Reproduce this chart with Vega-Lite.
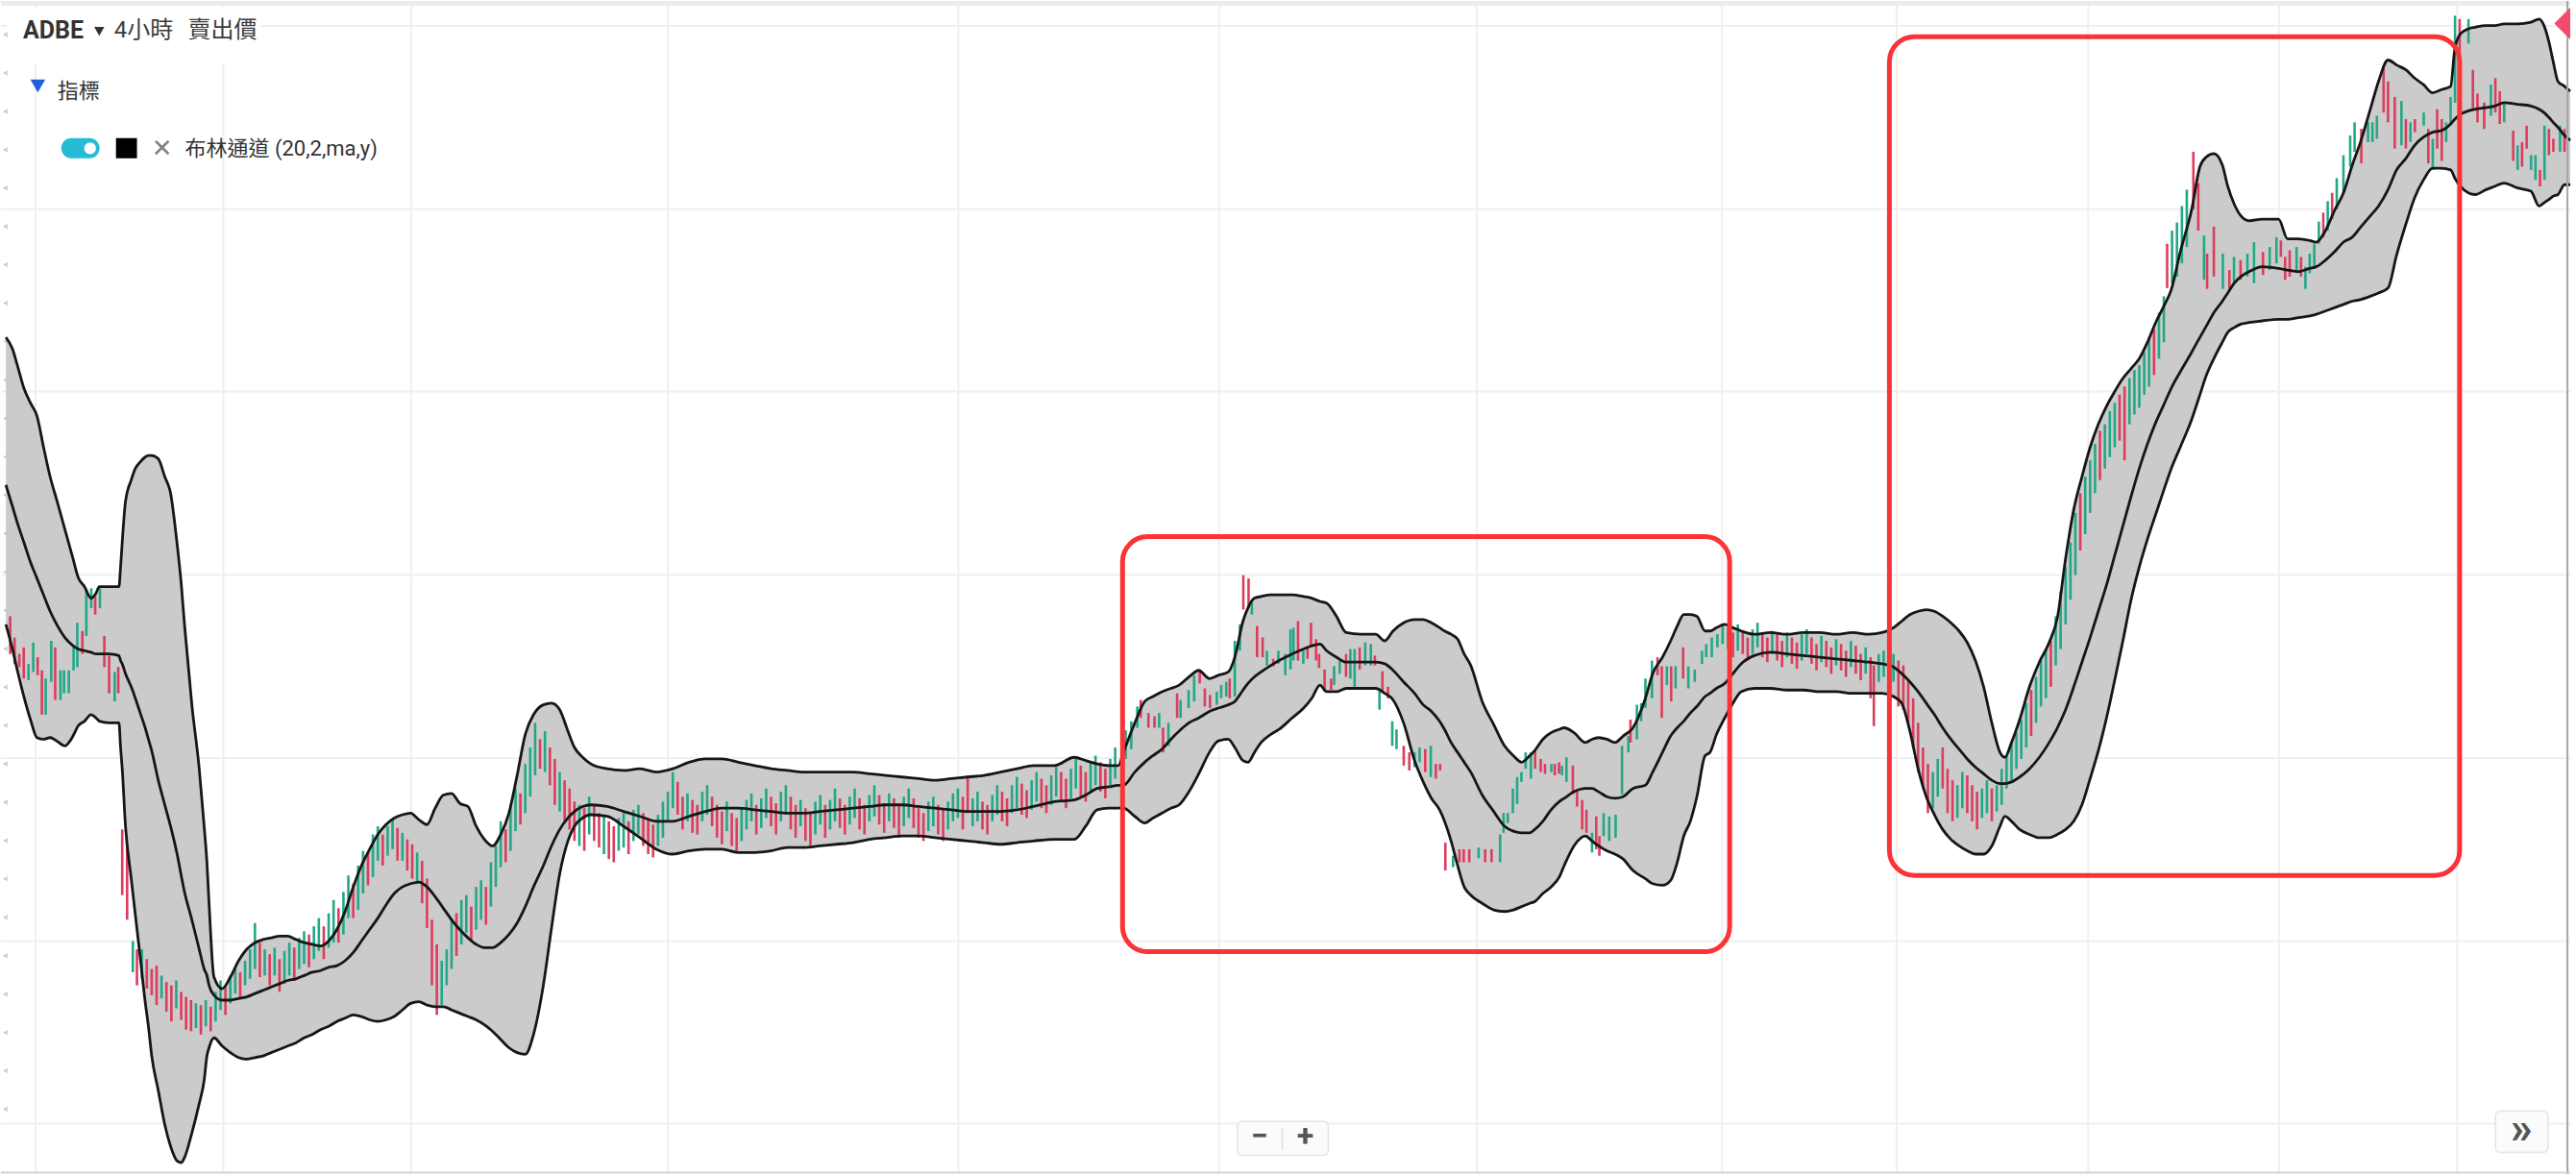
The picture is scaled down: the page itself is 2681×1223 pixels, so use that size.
{
"$schema": "https://vega.github.io/schema/vega-lite/v6.json",
"width": 2681, "height": 1223,
"autosize": {"type": "fit", "contains": "padding"},
"padding": 0,
"background": "white",
"config": {"view": {"stroke": null}},
"datasets": {
"vgrid": [{"t":21.1},{"t":135.7},{"t":250.3},{"t":407.1},{"t":584.3},{"t":743.4},{"t":900.7},{"t":1050.4},{"t":1156.9},{"t":1273.8},{"t":1390.2},{"t":1499.0}],
"hgrid": [{"p":984.8},{"p":873.1},{"p":762.0},{"p":650.3},{"p":538.5},{"p":426.8},{"p":315.7}],
"lticks": [{"p":979.5},{"p":956.1},{"p":932.7},{"p":909.3},{"p":886.0},{"p":862.6},{"p":839.2},{"p":815.8},{"p":792.4},{"p":769.0},{"p":745.6},{"p":722.2},{"p":698.8},{"p":675.4},{"p":652.0},{"p":628.6},{"p":605.2},{"p":581.8},{"p":558.4},{"p":535.0},{"p":511.6},{"p":488.2},{"p":464.9},{"p":441.5},{"p":418.1},{"p":394.7},{"p":371.3},{"p":347.9},{"p":324.5}],
"bands": [
{"t":3,"upper":795,"middle":705,"lower":620},{"t":7,"upper":788,"middle":692,"lower":605},{"t":10,"upper":778,"middle":682,"lower":592},{"t":14,"upper":764,"middle":670,"lower":576},{"t":18,"upper":755,"middle":658,"lower":562},{"t":22,"upper":747,"middle":648,"lower":551},{"t":26,"upper":728,"middle":638,"lower":550},{"t":30,"upper":710,"middle":628,"lower":551},{"t":34,"upper":696,"middle":620,"lower":549},{"t":39,"upper":678,"middle":612,"lower":546},{"t":44,"upper":660,"middle":607,"lower":552},{"t":47,"upper":649,"middle":605,"lower":558},{"t":51,"upper":643,"middle":604,"lower":561},{"t":55,"upper":636,"middle":603,"lower":565},{"t":58,"upper":639,"middle":602,"lower":563},{"t":60,"upper":643,"middle":602,"lower":561},{"t":66,"upper":643,"middle":602,"lower":560},{"t":72,"upper":643,"middle":601,"lower":560},{"t":73,"upper":655,"middle":598,"lower":545},{"t":74,"upper":670,"middle":596,"lower":532},{"t":76,"upper":695,"middle":590,"lower":497},{"t":79.5,"upper":708,"middle":582,"lower":465},{"t":82,"upper":715,"middle":575,"lower":443},{"t":85,"upper":719,"middle":566,"lower":417},{"t":88,"upper":722,"middle":557,"lower":390},{"t":90,"upper":723,"middle":550,"lower":375},{"t":92,"upper":723,"middle":543,"lower":357},{"t":96,"upper":721,"middle":525,"lower":336},{"t":100,"upper":710,"middle":510,"lower":315},{"t":103.5,"upper":700,"middle":497,"lower":302},{"t":107.5,"upper":669,"middle":480,"lower":293},{"t":110,"upper":645,"middle":467,"lower":292},{"t":112,"upper":620,"middle":457,"lower":295},{"t":116.5,"upper":571,"middle":440,"lower":310},{"t":121,"upper":532,"middle":422,"lower":328},{"t":124,"upper":497,"middle":410,"lower":342},{"t":125.7,"upper":475,"middle":406,"lower":357},{"t":127,"upper":450,"middle":400,"lower":362},{"t":130,"upper":405,"middle":394,"lower":368},{"t":135,"upper":398,"middle":391,"lower":363},{"t":140,"upper":405,"middle":391,"lower":359},{"t":145,"upper":415,"middle":392,"lower":356},{"t":150,"upper":422,"middle":393,"lower":355},{"t":155,"upper":426,"middle":395,"lower":356},{"t":160,"upper":428,"middle":397,"lower":357},{"t":165,"upper":429,"middle":399,"lower":359},{"t":170,"upper":430,"middle":401,"lower":361},{"t":175,"upper":430,"middle":403,"lower":363},{"t":180,"upper":428,"middle":404,"lower":365},{"t":185,"upper":426,"middle":406,"lower":368},{"t":190,"upper":425,"middle":408,"lower":370},{"t":195,"upper":424,"middle":409,"lower":373},{"t":200,"upper":427,"middle":411,"lower":375},{"t":205,"upper":434,"middle":412,"lower":378},{"t":210,"upper":445,"middle":415,"lower":380},{"t":215,"upper":460,"middle":420,"lower":382},{"t":220,"upper":473,"middle":427,"lower":381},{"t":225,"upper":483,"middle":434,"lower":379},{"t":230,"upper":492,"middle":441,"lower":378},{"t":235,"upper":498,"middle":449,"lower":379},{"t":240,"upper":502,"middle":456,"lower":381},{"t":245,"upper":504,"middle":460,"lower":385},{"t":250,"upper":505,"middle":462,"lower":389},{"t":255,"upper":501,"middle":463,"lower":390},{"t":260,"upper":498,"middle":460,"lower":388},{"t":265,"upper":508,"middle":454,"lower":387},{"t":270,"upper":516,"middle":447,"lower":387},{"t":275,"upper":517,"middle":440,"lower":385},{"t":280,"upper":511,"middle":434,"lower":383},{"t":285,"upper":509,"middle":429,"lower":381},{"t":290,"upper":497,"middle":425,"lower":379},{"t":295,"upper":489,"middle":423,"lower":376},{"t":300,"upper":485,"middle":423,"lower":372},{"t":305,"upper":492,"middle":426,"lower":367},{"t":310,"upper":505,"middle":431,"lower":362},{"t":315,"upper":528,"middle":438,"lower":359},{"t":320,"upper":553,"middle":448,"lower":358},{"t":325,"upper":565,"middle":460,"lower":370},{"t":331,"upper":571,"middle":473,"lower":400},{"t":336,"upper":572,"middle":485,"lower":435},{"t":341,"upper":568,"middle":495,"lower":468},{"t":346,"upper":555,"middle":502,"lower":488},{"t":350,"upper":545,"middle":506,"lower":497},{"t":355,"upper":539,"middle":509,"lower":502},{"t":360,"upper":535,"middle":510,"lower":504},{"t":370,"upper":532,"middle":509,"lower":503},{"t":380,"upper":531,"middle":506,"lower":497},{"t":390,"upper":532,"middle":503,"lower":490},{"t":400,"upper":530,"middle":500,"lower":483},{"t":410,"upper":532,"middle":500,"lower":480},{"t":420,"upper":536,"middle":503,"lower":482},{"t":430,"upper":538,"middle":506,"lower":483},{"t":440,"upper":538,"middle":508,"lower":483},{"t":450,"upper":536,"middle":508,"lower":481},{"t":460,"upper":534,"middle":507,"lower":481},{"t":470,"upper":532,"middle":506,"lower":482},{"t":480,"upper":531,"middle":505,"lower":484},{"t":490,"upper":530,"middle":505,"lower":484},{"t":500,"upper":530,"middle":506,"lower":485},{"t":510,"upper":530,"middle":507,"lower":486},{"t":520,"upper":530,"middle":508,"lower":487},{"t":530,"upper":529,"middle":509,"lower":489},{"t":540,"upper":528,"middle":510,"lower":490},{"t":550,"upper":527,"middle":510,"lower":491},{"t":560,"upper":526,"middle":509,"lower":491},{"t":570,"upper":525,"middle":508,"lower":490},{"t":580,"upper":526,"middle":507,"lower":489},{"t":590,"upper":527,"middle":506,"lower":488},{"t":600,"upper":528,"middle":506,"lower":487},{"t":610,"upper":530,"middle":506,"lower":486},{"t":620,"upper":532,"middle":507,"lower":487},{"t":630,"upper":534,"middle":509,"lower":488},{"t":643,"upper":534,"middle":512,"lower":489},{"t":655,"upper":539,"middle":513,"lower":489},{"t":662,"upper":537,"middle":516,"lower":497},{"t":669,"upper":535,"middle":520,"lower":507},{"t":676,"upper":534,"middle":521,"lower":508},{"t":682,"upper":534,"middle":522,"lower":508},{"t":685,"upper":542,"middle":522,"lower":508},{"t":692,"upper":560,"middle":530,"lower":503},{"t":698,"upper":573,"middle":536,"lower":499},{"t":703,"upper":576,"middle":540,"lower":502},{"t":708.6,"upper":579,"middle":544,"lower":505},{"t":714,"upper":581,"middle":550,"lower":508},{"t":719,"upper":583,"middle":555,"lower":510},{"t":725,"upper":588,"middle":560,"lower":518},{"t":731,"upper":592,"middle":563,"lower":529},{"t":737.5,"upper":587,"middle":567,"lower":542},{"t":743,"upper":589,"middle":569,"lower":549},{"t":749,"upper":591,"middle":571,"lower":550},{"t":753,"upper":600,"middle":573,"lower":545},{"t":758,"upper":622,"middle":580,"lower":537},{"t":761,"upper":630,"middle":584,"lower":536},{"t":765,"upper":636,"middle":588,"lower":542},{"t":769,"upper":637,"middle":591,"lower":548},{"t":775,"upper":638,"middle":595,"lower":553},{"t":780,"upper":638,"middle":598,"lower":556},{"t":788,"upper":638,"middle":602,"lower":563},{"t":795,"upper":637,"middle":605,"lower":569},{"t":800,"upper":636,"middle":607,"lower":575},{"t":805,"upper":634,"middle":608,"lower":583},{"t":809,"upper":633,"middle":604,"lower":579},{"t":815,"upper":625,"middle":600,"lower":579},{"t":821,"upper":615,"middle":597,"lower":581},{"t":830,"upper":614,"middle":597,"lower":581},{"t":839,"upper":614,"middle":597,"lower":581},{"t":844.5,"upper":610,"middle":596,"lower":578},{"t":849.6,"upper":616,"middle":592,"lower":574},{"t":856,"upper":621,"middle":585,"lower":560},{"t":862.7,"upper":623,"middle":578,"lower":537},{"t":868,"upper":623,"middle":571,"lower":524},{"t":873,"upper":621,"middle":567,"lower":514},{"t":878,"upper":618,"middle":561,"lower":507},{"t":881,"upper":616,"middle":556,"lower":500},{"t":885,"upper":614,"middle":548,"lower":488},{"t":889,"upper":611,"middle":542,"lower":473},{"t":893,"upper":602,"middle":536,"lower":460},{"t":897,"upper":595,"middle":530,"lower":455},{"t":904,"upper":573,"middle":516,"lower":450},{"t":911,"upper":559,"middle":506,"lower":446},{"t":917.6,"upper":546,"middle":497,"lower":445},{"t":923,"upper":540,"middle":494,"lower":446},{"t":928,"upper":536,"middle":493,"lower":448},{"t":933,"upper":540,"middle":493,"lower":450},{"t":936,"upper":543,"middle":495,"lower":451},{"t":941,"upper":550,"middle":500,"lower":456},{"t":946,"upper":554,"middle":507,"lower":460},{"t":951,"upper":556,"middle":512,"lower":466},{"t":954,"upper":557,"middle":514,"lower":473},{"t":960,"upper":554,"middle":518,"lower":485},{"t":967,"upper":548,"middle":520,"lower":491},{"t":971,"upper":550,"middle":520,"lower":488},{"t":975,"upper":551,"middle":518,"lower":485},{"t":980,"upper":550,"middle":515,"lower":482},{"t":985,"upper":548,"middle":514,"lower":480},{"t":990,"upper":552,"middle":515,"lower":477},{"t":996,"upper":557,"middle":520,"lower":470},{"t":1003.6,"upper":575,"middle":522,"lower":465},{"t":1008,"upper":590,"middle":530,"lower":462},{"t":1014,"upper":600,"middle":542,"lower":461},{"t":1019,"upper":610,"middle":552,"lower":464},{"t":1023,"upper":619,"middle":557,"lower":475},{"t":1027,"upper":626,"middle":561,"lower":491},{"t":1031,"upper":626,"middle":566,"lower":500},{"t":1035,"upper":625,"middle":570,"lower":515},{"t":1040,"upper":616,"middle":576,"lower":540},{"t":1043,"upper":616,"middle":578,"lower":542},{"t":1047,"upper":618,"middle":581,"lower":553},{"t":1052,"upper":620,"middle":584,"lower":563},{"t":1057,"upper":618,"middle":590,"lower":572},{"t":1062,"upper":616,"middle":596,"lower":579},{"t":1070,"upper":614,"middle":601,"lower":581},{"t":1080,"upper":615,"middle":603,"lower":581},{"t":1090,"upper":614,"middle":602,"lower":580},{"t":1100,"upper":615,"middle":601,"lower":580},{"t":1110,"upper":615,"middle":600,"lower":579},{"t":1120,"upper":614,"middle":599,"lower":579},{"t":1130,"upper":615,"middle":598,"lower":578},{"t":1140,"upper":614,"middle":597,"lower":578},{"t":1148,"upper":615,"middle":596,"lower":578},{"t":1155,"upper":618,"middle":594,"lower":576},{"t":1160,"upper":622,"middle":590,"lower":572},{"t":1165,"upper":626,"middle":585,"lower":555},{"t":1170,"upper":628,"middle":579,"lower":532},{"t":1175,"upper":629,"middle":572,"lower":515},{"t":1180,"upper":628,"middle":565,"lower":504},{"t":1185,"upper":625,"middle":557,"lower":495},{"t":1190,"upper":621,"middle":550,"lower":489},{"t":1195,"upper":616,"middle":544,"lower":485},{"t":1200,"upper":609,"middle":538,"lower":482},{"t":1205,"upper":598,"middle":533,"lower":480},{"t":1210,"upper":582,"middle":529,"lower":480},{"t":1215,"upper":560,"middle":525,"lower":485},{"t":1220,"upper":542,"middle":523,"lower":497},{"t":1223,"upper":539,"middle":523,"lower":503},{"t":1227,"upper":548,"middle":524,"lower":500},{"t":1232,"upper":562,"middle":527,"lower":495},{"t":1238,"upper":582,"middle":532,"lower":492},{"t":1244,"upper":597,"middle":539,"lower":490},{"t":1250,"upper":609,"middle":548,"lower":490},{"t":1255,"upper":624,"middle":557,"lower":492},{"t":1260,"upper":660,"middle":568,"lower":495},{"t":1265,"upper":690,"middle":582,"lower":500},{"t":1270,"upper":710,"middle":597,"lower":510},{"t":1275,"upper":728,"middle":612,"lower":526},{"t":1280,"upper":742,"middle":628,"lower":543},{"t":1285,"upper":753,"middle":644,"lower":563},{"t":1290,"upper":762,"middle":662,"lower":586},{"t":1295,"upper":770,"middle":680,"lower":610},{"t":1300,"upper":776,"middle":698,"lower":635},{"t":1305,"upper":782,"middle":715,"lower":655},{"t":1310,"upper":792,"middle":730,"lower":672},{"t":1315,"upper":804,"middle":743,"lower":687},{"t":1320,"upper":814,"middle":754,"lower":702},{"t":1324.5,"upper":824,"middle":764,"lower":715},{"t":1330,"upper":847,"middle":774,"lower":728},{"t":1337,"upper":873,"middle":786,"lower":745},{"t":1342,"upper":899,"middle":795,"lower":760},{"t":1346,"upper":905,"middle":802,"lower":772},{"t":1350.5,"upper":907,"middle":810,"lower":782},{"t":1355.7,"upper":900,"middle":817,"lower":792},{"t":1359,"upper":887,"middle":822,"lower":798},{"t":1363,"upper":876,"middle":828,"lower":801},{"t":1367,"upper":869,"middle":832,"lower":803},{"t":1372,"upper":866,"middle":835,"lower":804},{"t":1380,"upper":867,"middle":838,"lower":805},{"t":1390,"upper":867,"middle":837,"lower":806},{"t":1395.5,"upper":855,"middle":836,"lower":806},{"t":1402,"upper":855,"middle":835,"lower":807},{"t":1409,"upper":854,"middle":837,"lower":808},{"t":1413,"upper":853,"middle":838,"lower":809},{"t":1418.6,"upper":860,"middle":842,"lower":811},{"t":1424,"upper":872,"middle":847,"lower":813},{"t":1429.6,"upper":883,"middle":853,"lower":815},{"t":1435,"upper":900,"middle":856,"lower":817},{"t":1440,"upper":914,"middle":862,"lower":818},{"t":1446,"upper":934,"middle":869,"lower":820},{"t":1451,"upper":951,"middle":875,"lower":822},{"t":1456.8,"upper":964,"middle":885,"lower":825},{"t":1462,"upper":961,"middle":897,"lower":845},{"t":1467.7,"upper":958,"middle":904,"lower":864},{"t":1473,"upper":953,"middle":912,"lower":880},{"t":1478.5,"upper":949,"middle":917,"lower":891},{"t":1484,"upper":944,"middle":920,"lower":898},{"t":1489.5,"upper":946,"middle":921,"lower":898},{"t":1495,"upper":948,"middle":925,"lower":897},{"t":1497.6,"upper":971,"middle":928,"lower":892},{"t":1501,"upper":980,"middle":931,"lower":887},{"t":1505.8,"upper":983,"middle":933,"lower":883},{"t":1510,"upper":984,"middle":934,"lower":882},{"t":1516.6,"upper":985,"middle":935,"lower":885},{"t":1522,"upper":985,"middle":936,"lower":887},{"t":1527.6,"upper":986,"middle":938,"lower":889},{"t":1536,"upper":986,"middle":937,"lower":886},{"t":1544,"upper":987,"middle":936,"lower":884},{"t":1549,"upper":989,"middle":934,"lower":875},{"t":1552,"upper":985,"middle":932,"lower":877},{"t":1555,"upper":975,"middle":929,"lower":879},{"t":1557.6,"upper":963,"middle":926,"lower":881},{"t":1560.5,"upper":951,"middle":923,"lower":882},{"t":1564.5,"upper":948,"middle":918,"lower":888},{"t":1568,"upper":945,"middle":915,"lower":888}
],
"candles": [
{"t":5.6,"lo":602,"hi":625,"d":"down"},{"t":8.3,"lo":596,"hi":612,"d":"down"},{"t":11.2,"lo":594,"hi":602,"d":"down"},{"t":13.9,"lo":587,"hi":606,"d":"down"},{"t":16.8,"lo":586,"hi":596,"d":"up"},{"t":19.7,"lo":591,"hi":609,"d":"up"},{"t":22.4,"lo":589,"hi":600,"d":"down"},{"t":25,"lo":565,"hi":592,"d":"down"},{"t":27.3,"lo":565,"hi":587,"d":"up"},{"t":30.7,"lo":585,"hi":610,"d":"up"},{"t":33.1,"lo":574,"hi":606,"d":"down"},{"t":36.3,"lo":574,"hi":592,"d":"up"},{"t":38.5,"lo":578,"hi":592,"d":"up"},{"t":41.4,"lo":578,"hi":592,"d":"up"},{"t":44.3,"lo":592,"hi":606,"d":"up"},{"t":46.6,"lo":594,"hi":621,"d":"up"},{"t":49.7,"lo":602,"hi":616,"d":"down"},{"t":52.1,"lo":613,"hi":641,"d":"up"},{"t":55.1,"lo":630,"hi":642,"d":"up"},{"t":57.5,"lo":626,"hi":637,"d":"down"},{"t":60.4,"lo":630,"hi":642,"d":"up"},{"t":63.1,"lo":594,"hi":613,"d":"down"},{"t":66,"lo":578,"hi":601,"d":"down"},{"t":69.4,"lo":573,"hi":591,"d":"up"},{"t":71.6,"lo":578,"hi":594,"d":"down"},
{"t":74,"lo":455,"hi":495,"d":"down"},{"t":77,"lo":440,"hi":485,"d":"down"},{"t":80.5,"lo":408,"hi":427,"d":"up"},{"t":83,"lo":400,"hi":422,"d":"down"},{"t":86,"lo":404,"hi":422,"d":"up"},{"t":89,"lo":398,"hi":416,"d":"down"},{"t":92,"lo":394,"hi":410,"d":"down"},{"t":95,"lo":388,"hi":412,"d":"down"},{"t":98,"lo":392,"hi":406,"d":"up"},{"t":101,"lo":384,"hi":402,"d":"down"},{"t":104,"lo":378,"hi":400,"d":"down"},{"t":107,"lo":386,"hi":403,"d":"up"},{"t":110,"lo":379,"hi":396,"d":"down"},{"t":113,"lo":373,"hi":393,"d":"down"},{"t":116,"lo":372,"hi":391,"d":"down"},{"t":119,"lo":374,"hi":389,"d":"up"},{"t":122,"lo":370,"hi":388,"d":"down"},{"t":125,"lo":375,"hi":391,"d":"up"},{"t":128,"lo":372,"hi":387,"d":"down"},{"t":131,"lo":378,"hi":396,"d":"up"},{"t":134,"lo":385,"hi":403,"d":"up"},{"t":137,"lo":382,"hi":400,"d":"down"},{"t":140,"lo":389,"hi":406,"d":"up"},
{"t":143,"lo":395,"hi":410,"d":"up"},{"t":146,"lo":392,"hi":408,"d":"down"},{"t":149,"lo":400,"hi":415,"d":"up"},{"t":152,"lo":404,"hi":422,"d":"up"},{"t":155,"lo":410,"hi":438,"d":"up"},{"t":158,"lo":405,"hi":426,"d":"down"},{"t":161,"lo":406,"hi":422,"d":"up"},{"t":164,"lo":400,"hi":419,"d":"down"},{"t":167,"lo":406,"hi":423,"d":"up"},{"t":170,"lo":396,"hi":416,"d":"down"},{"t":173,"lo":401,"hi":421,"d":"up"},{"t":176,"lo":406,"hi":426,"d":"up"},{"t":179,"lo":403,"hi":423,"d":"down"},{"t":182,"lo":410,"hi":429,"d":"up"},{"t":185,"lo":413,"hi":433,"d":"up"},{"t":188,"lo":411,"hi":431,"d":"down"},{"t":191,"lo":416,"hi":436,"d":"up"},{"t":194,"lo":421,"hi":441,"d":"up"},{"t":197,"lo":416,"hi":436,"d":"down"},{"t":200,"lo":423,"hi":444,"d":"up"},{"t":203,"lo":426,"hi":452,"d":"up"},{"t":206,"lo":426,"hi":447,"d":"down"},{"t":209,"lo":431,"hi":457,"d":"up"},{"t":212,"lo":441,"hi":467,"d":"up"},{"t":215,"lo":441,"hi":462,"d":"down"},{"t":218,"lo":446,"hi":473,"d":"up"},{"t":221,"lo":456,"hi":482,"d":"up"},{"t":224,"lo":461,"hi":481,"d":"down"},{"t":227,"lo":466,"hi":492,"d":"up"},{"t":230,"lo":476,"hi":497,"d":"up"},{"t":233,"lo":473,"hi":492,"d":"down"},{"t":236,"lo":479,"hi":497,"d":"up"},{"t":239,"lo":483,"hi":501,"d":"up"},{"t":242,"lo":476,"hi":496,"d":"down"},{"t":245,"lo":476,"hi":493,"d":"up"},{"t":248,"lo":470,"hi":489,"d":"down"},{"t":251,"lo":465,"hi":486,"d":"down"},{"t":254,"lo":462,"hi":481,"d":"up"},{"t":257,"lo":450,"hi":476,"d":"down"},{"t":260,"lo":435,"hi":465,"d":"down"},{"t":263,"lo":400,"hi":440,"d":"down"},{"t":266,"lo":382,"hi":425,"d":"down"},{"t":269,"lo":388,"hi":415,"d":"up"},{"t":272,"lo":400,"hi":422,"d":"up"},{"t":275,"lo":410,"hi":440,"d":"up"},{"t":278,"lo":418,"hi":444,"d":"down"},{"t":281,"lo":425,"hi":452,"d":"up"},{"t":284,"lo":432,"hi":455,"d":"up"},{"t":287,"lo":428,"hi":448,"d":"down"},{"t":290,"lo":434,"hi":460,"d":"up"},{"t":293,"lo":440,"hi":464,"d":"up"},{"t":296,"lo":437,"hi":460,"d":"down"},{"t":299,"lo":448,"hi":475,"d":"up"},{"t":302,"lo":460,"hi":485,"d":"up"},{"t":305,"lo":472,"hi":500,"d":"up"},{"t":308,"lo":475,"hi":495,"d":"down"},{"t":311,"lo":482,"hi":510,"d":"up"},{"t":314,"lo":494,"hi":520,"d":"up"},{"t":317,"lo":498,"hi":517,"d":"down"},{"t":320,"lo":505,"hi":535,"d":"up"},{"t":323,"lo":515,"hi":545,"d":"up"},{"t":326,"lo":528,"hi":560,"d":"up"},{"t":329,"lo":532,"hi":550,"d":"down"},{"t":332,"lo":530,"hi":555,"d":"up"},{"t":335,"lo":522,"hi":545,"d":"down"},{"t":338,"lo":510,"hi":538,"d":"down"},{"t":341,"lo":506,"hi":530,"d":"up"},{"t":344,"lo":500,"hi":525,"d":"down"},{"t":347,"lo":495,"hi":520,"d":"down"},{"t":350,"lo":488,"hi":512,"d":"down"},{"t":353,"lo":485,"hi":510,"d":"up"},{"t":356,"lo":482,"hi":508,"d":"down"},{"t":359,"lo":492,"hi":515,"d":"up"},{"t":362,"lo":488,"hi":510,"d":"down"},{"t":365,"lo":484,"hi":505,"d":"down"},{"t":368,"lo":480,"hi":503,"d":"up"},{"t":371,"lo":477,"hi":500,"d":"down"},{"t":374,"lo":475,"hi":497,"d":"down"},{"t":377,"lo":482,"hi":502,"d":"up"},{"t":380,"lo":484,"hi":505,"d":"up"},{"t":383,"lo":480,"hi":500,"d":"down"},{"t":386,"lo":488,"hi":507,"d":"up"},{"t":389,"lo":492,"hi":510,"d":"up"},{"t":392,"lo":485,"hi":505,"d":"down"},{"t":395,"lo":480,"hi":502,"d":"down"},{"t":398,"lo":478,"hi":498,"d":"down"},{"t":401,"lo":485,"hi":504,"d":"up"},{"t":404,"lo":490,"hi":512,"d":"up"},{"t":407,"lo":500,"hi":518,"d":"up"},{"t":410,"lo":508,"hi":530,"d":"up"},{"t":413,"lo":504,"hi":524,"d":"down"},{"t":416,"lo":495,"hi":515,"d":"down"},{"t":419,"lo":500,"hi":517,"d":"up"},{"t":422,"lo":493,"hi":513,"d":"down"},{"t":425,"lo":492,"hi":510,"d":"down"},{"t":428,"lo":500,"hi":518,"d":"up"},{"t":431,"lo":504,"hi":522,"d":"up"},{"t":434,"lo":497,"hi":515,"d":"down"},{"t":437,"lo":490,"hi":510,"d":"down"},{"t":440,"lo":486,"hi":506,"d":"down"},{"t":443,"lo":494,"hi":512,"d":"up"},{"t":446,"lo":485,"hi":505,"d":"down"},{"t":449,"lo":482,"hi":502,"d":"down"},{"t":452,"lo":488,"hi":508,"d":"up"},{"t":455,"lo":495,"hi":513,"d":"up"},{"t":458,"lo":500,"hi":517,"d":"up"},{"t":461,"lo":492,"hi":510,"d":"down"},{"t":464,"lo":496,"hi":514,"d":"up"},{"t":467,"lo":502,"hi":520,"d":"up"},{"t":470,"lo":497,"hi":515,"d":"down"},{"t":473,"lo":492,"hi":511,"d":"down"},{"t":476,"lo":500,"hi":518,"d":"up"},{"t":479,"lo":504,"hi":522,"d":"up"},{"t":482,"lo":495,"hi":515,"d":"down"},{"t":485,"lo":490,"hi":510,"d":"down"},{"t":488,"lo":497,"hi":513,"d":"up"},{"t":491,"lo":488,"hi":508,"d":"down"},{"t":494,"lo":485,"hi":505,"d":"down"},{"t":497,"lo":492,"hi":512,"d":"up"},{"t":500,"lo":498,"hi":516,"d":"up"},{"t":503,"lo":490,"hi":510,"d":"down"},{"t":506,"lo":495,"hi":513,"d":"up"},{"t":509,"lo":500,"hi":520,"d":"up"},{"t":512,"lo":496,"hi":514,"d":"down"},{"t":515,"lo":492,"hi":510,"d":"down"},{"t":518,"lo":498,"hi":515,"d":"up"},{"t":521,"lo":502,"hi":520,"d":"up"},{"t":524,"lo":495,"hi":514,"d":"down"},{"t":527,"lo":492,"hi":510,"d":"down"},{"t":530,"lo":500,"hi":516,"d":"up"},{"t":533,"lo":503,"hi":522,"d":"up"},{"t":536,"lo":498,"hi":516,"d":"down"},{"t":539,"lo":493,"hi":511,"d":"down"},{"t":542,"lo":500,"hi":517,"d":"up"},{"t":545,"lo":496,"hi":514,"d":"down"},{"t":548,"lo":490,"hi":510,"d":"down"},{"t":551,"lo":497,"hi":515,"d":"up"},{"t":554,"lo":502,"hi":520,"d":"up"},{"t":557,"lo":496,"hi":514,"d":"down"},{"t":560,"lo":490,"hi":508,"d":"down"},{"t":563,"lo":488,"hi":505,"d":"down"},{"t":566,"lo":494,"hi":512,"d":"up"},{"t":569,"lo":497,"hi":515,"d":"up"},{"t":572,"lo":492,"hi":510,"d":"down"},{"t":575,"lo":488,"hi":507,"d":"down"},{"t":578,"lo":495,"hi":512,"d":"up"},{"t":581,"lo":500,"hi":517,"d":"up"},{"t":584,"lo":502,"hi":520,"d":"up"},{"t":587,"lo":495,"hi":515,"d":"down"},{"t":590,"lo":505,"hi":528,"d":"down"},{"t":593,"lo":497,"hi":514,"d":"up"},{"t":596,"lo":500,"hi":518,"d":"up"},{"t":599,"lo":495,"hi":512,"d":"down"},{"t":602,"lo":492,"hi":510,"d":"down"},{"t":605,"lo":500,"hi":516,"d":"up"},{"t":608,"lo":504,"hi":522,"d":"up"},{"t":611,"lo":500,"hi":518,"d":"down"},{"t":614,"lo":497,"hi":514,"d":"down"},{"t":617,"lo":505,"hi":522,"d":"up"},{"t":620,"lo":508,"hi":527,"d":"up"},{"t":623,"lo":504,"hi":523,"d":"down"},{"t":626,"lo":502,"hi":519,"d":"down"},{"t":629,"lo":507,"hi":525,"d":"up"},{"t":632,"lo":512,"hi":530,"d":"up"},{"t":635,"lo":508,"hi":526,"d":"down"},{"t":638,"lo":505,"hi":522,"d":"down"},{"t":641,"lo":510,"hi":528,"d":"up"},{"t":644,"lo":515,"hi":533,"d":"up"},{"t":647,"lo":512,"hi":530,"d":"down"},{"t":650,"lo":508,"hi":526,"d":"down"},{"t":653,"lo":514,"hi":532,"d":"up"},{"t":656,"lo":520,"hi":538,"d":"up"},{"t":659,"lo":515,"hi":534,"d":"down"},{"t":662,"lo":512,"hi":530,"d":"down"},{"t":665,"lo":518,"hi":536,"d":"up"},{"t":668,"lo":522,"hi":540,"d":"up"},{"t":671,"lo":518,"hi":536,"d":"down"},{"t":674,"lo":514,"hi":532,"d":"down"},{"t":677,"lo":522,"hi":538,"d":"up"},{"t":680,"lo":526,"hi":545,"d":"up"},
{"t":686.4,"lo":538,"hi":555.5,"d":"up"},{"t":689.8,"lo":544,"hi":561,"d":"up"},{"t":693.5,"lo":557,"hi":570,"d":"up"},{"t":695.6,"lo":563,"hi":574,"d":"down"},{"t":700.3,"lo":557,"hi":566,"d":"down"},{"t":704,"lo":557,"hi":564,"d":"down"},{"t":706.8,"lo":557,"hi":566,"d":"up"},{"t":709.2,"lo":542,"hi":557,"d":"down"},{"t":712.5,"lo":546,"hi":560,"d":"up"},{"t":717.8,"lo":563,"hi":578,"d":"down"},{"t":719.9,"lo":563,"hi":574,"d":"up"},{"t":724.8,"lo":569,"hi":580,"d":"up"},{"t":728.2,"lo":573,"hi":589,"d":"up"},{"t":731.6,"lo":584,"hi":592.5,"d":"down"},{"t":734.7,"lo":570,"hi":581,"d":"down"},{"t":737.9,"lo":569,"hi":577,"d":"down"},{"t":742,"lo":571,"hi":579,"d":"up"},{"t":744.7,"lo":575,"hi":583,"d":"up"},{"t":747.8,"lo":576,"hi":585,"d":"up"},{"t":749.9,"lo":575,"hi":587,"d":"down"},{"t":753,"lo":576,"hi":610,"d":"up"},{"t":756.1,"lo":604,"hi":620,"d":"up"},{"t":758.2,"lo":629,"hi":650,"d":"down"},{"t":761.4,"lo":630,"hi":648,"d":"down"},{"t":763.4,"lo":626,"hi":633.5,"d":"up"},{"t":766.6,"lo":600,"hi":619,"d":"down"},{"t":770,"lo":600,"hi":612,"d":"down"},{"t":772.6,"lo":595,"hi":604,"d":"up"},{"t":776.5,"lo":594.5,"hi":599,"d":"down"},{"t":779.6,"lo":596,"hi":604,"d":"up"},{"t":783.8,"lo":589,"hi":602,"d":"up"},{"t":787,"lo":592.5,"hi":617,"d":"up"},{"t":788.8,"lo":598,"hi":618,"d":"up"},{"t":791.6,"lo":598,"hi":622,"d":"down"},{"t":794.8,"lo":596,"hi":604,"d":"up"},{"t":797.4,"lo":599,"hi":606,"d":"down"},{"t":799.5,"lo":606,"hi":621,"d":"down"},{"t":802.6,"lo":598,"hi":611,"d":"down"},{"t":804.4,"lo":593.5,"hi":602,"d":"down"},{"t":807.8,"lo":579,"hi":592.5,"d":"down"},{"t":811.8,"lo":580,"hi":587,"d":"down"},{"t":813.6,"lo":583,"hi":594.5,"d":"up"},{"t":817,"lo":590,"hi":598,"d":"up"},{"t":820.9,"lo":588,"hi":602,"d":"down"},{"t":823.5,"lo":587,"hi":605,"d":"up"},{"t":826.1,"lo":582,"hi":605,"d":"up"},{"t":829.2,"lo":592.5,"hi":606,"d":"down"},{"t":832.6,"lo":595,"hi":609,"d":"up"},{"t":836,"lo":595,"hi":608,"d":"up"},{"t":838.5,"lo":595,"hi":601,"d":"down"},{"t":841.3,"lo":568,"hi":581,"d":"up"},{"t":843.1,"lo":579,"hi":591.5,"d":"down"},{"t":846.5,"lo":575,"hi":582,"d":"down"},{"t":849.1,"lo":546,"hi":561,"d":"up"},{"t":851.7,"lo":544,"hi":556,"d":"up"},{"t":856.1,"lo":534,"hi":546,"d":"down"},{"t":859.5,"lo":531,"hi":542,"d":"down"},{"t":862.7,"lo":533,"hi":542,"d":"up"},{"t":865.8,"lo":536,"hi":545,"d":"up"},{"t":869.2,"lo":530,"hi":544,"d":"down"},{"t":872.6,"lo":527,"hi":546,"d":"up"},{"t":875.7,"lo":526,"hi":535,"d":"down"},{"t":878.3,"lo":531,"hi":535,"d":"down"},{"t":881.5,"lo":470,"hi":487,"d":"down"},{"t":886.2,"lo":472,"hi":479,"d":"up"},{"t":890.1,"lo":475,"hi":483,"d":"down"},{"t":892.7,"lo":475,"hi":483,"d":"down"},{"t":896.1,"lo":475,"hi":483,"d":"down"},{"t":901.8,"lo":477.5,"hi":484,"d":"up"},{"t":905.8,"lo":475,"hi":483,"d":"down"},{"t":909.7,"lo":475,"hi":483,"d":"down"},{"t":914.9,"lo":475,"hi":492,"d":"up"},{"t":917,"lo":493,"hi":505,"d":"up"},{"t":919.6,"lo":499,"hi":505,"d":"up"},{"t":922.7,"lo":505,"hi":520,"d":"up"},{"t":925.3,"lo":510.6,"hi":527,"d":"up"},{"t":927.9,"lo":524,"hi":530,"d":"up"},{"t":930.5,"lo":532,"hi":542,"d":"up"},{"t":933.7,"lo":526,"hi":542,"d":"up"},{"t":936.3,"lo":532,"hi":543,"d":"down"},{"t":939.7,"lo":530,"hi":538,"d":"down"},{"t":942.3,"lo":529,"hi":535,"d":"down"},{"t":946.2,"lo":530,"hi":535,"d":"up"},{"t":948.3,"lo":528,"hi":535,"d":"down"},{"t":950.9,"lo":529,"hi":536,"d":"down"},{"t":952.7,"lo":528,"hi":534,"d":"up"},{"t":955.4,"lo":524,"hi":539,"d":"up"},{"t":959.3,"lo":516.5,"hi":534,"d":"down"},{"t":961.9,"lo":509,"hi":518,"d":"down"},{"t":965,"lo":495,"hi":513,"d":"down"},{"t":967.6,"lo":493,"hi":507,"d":"down"},{"t":971,"lo":481,"hi":493,"d":"up"},{"t":973.6,"lo":483,"hi":503,"d":"down"},{"t":975.5,"lo":479,"hi":491,"d":"down"},{"t":978.1,"lo":491,"hi":505,"d":"up"},{"t":981.5,"lo":488,"hi":503,"d":"up"},{"t":985.4,"lo":490,"hi":504,"d":"up"},{"t":989.3,"lo":516.5,"hi":546,"d":"up"},{"t":993.2,"lo":542,"hi":552,"d":"up"},{"t":994.5,"lo":548,"hi":562,"d":"down"},{"t":998.4,"lo":550,"hi":571,"d":"up"},{"t":1001,"lo":561,"hi":572,"d":"up"},{"t":1003.6,"lo":569,"hi":587,"d":"up"},{"t":1007.6,"lo":575,"hi":598,"d":"up"},{"t":1011,"lo":589,"hi":600,"d":"down"},{"t":1013.6,"lo":563,"hi":594.5,"d":"down"},{"t":1016.7,"lo":583,"hi":594.5,"d":"up"},{"t":1019.3,"lo":573,"hi":594.5,"d":"down"},{"t":1022,"lo":581,"hi":594.5,"d":"up"},{"t":1026.6,"lo":587,"hi":606,"d":"down"},{"t":1029.8,"lo":581,"hi":594.5,"d":"up"},{"t":1033.7,"lo":585,"hi":592.5,"d":"up"},{"t":1038.1,"lo":596,"hi":604,"d":"up"},{"t":1040.7,"lo":600,"hi":608,"d":"up"},{"t":1044.1,"lo":600,"hi":612,"d":"up"},{"t":1047.5,"lo":606,"hi":614,"d":"up"},{"t":1050.7,"lo":608,"hi":620,"d":"up"},
{"t":1054,"lo":605,"hi":618,"d":"up"},{"t":1057,"lo":600,"hi":615,"d":"down"},{"t":1060,"lo":604,"hi":620,"d":"up"},{"t":1063,"lo":602,"hi":616,"d":"down"},{"t":1066,"lo":598,"hi":612,"d":"down"},{"t":1069,"lo":602,"hi":617,"d":"up"},{"t":1072,"lo":606,"hi":621,"d":"up"},{"t":1075,"lo":600,"hi":615,"d":"down"},{"t":1078,"lo":597,"hi":612,"d":"down"},{"t":1081,"lo":602,"hi":616,"d":"up"},{"t":1084,"lo":598,"hi":614,"d":"down"},{"t":1087,"lo":594,"hi":610,"d":"down"},{"t":1090,"lo":600,"hi":615,"d":"up"},{"t":1093,"lo":596,"hi":612,"d":"down"},{"t":1096,"lo":593,"hi":609,"d":"down"},{"t":1099,"lo":598,"hi":614,"d":"up"},{"t":1102,"lo":602,"hi":617,"d":"up"},{"t":1105,"lo":596,"hi":612,"d":"down"},{"t":1108,"lo":592,"hi":608,"d":"down"},{"t":1111,"lo":597,"hi":613,"d":"up"},{"t":1114,"lo":594,"hi":610,"d":"down"},{"t":1117,"lo":590,"hi":606,"d":"down"},{"t":1120,"lo":595,"hi":611,"d":"up"},{"t":1123,"lo":592,"hi":608,"d":"down"},{"t":1126,"lo":588,"hi":604,"d":"down"},{"t":1129,"lo":594,"hi":610,"d":"up"},{"t":1132,"lo":590,"hi":607,"d":"down"},{"t":1135,"lo":586,"hi":602,"d":"down"},{"t":1138,"lo":590,"hi":606,"d":"up"},{"t":1141,"lo":575,"hi":600,"d":"down"},{"t":1143,"lo":558,"hi":595,"d":"down"},{"t":1146,"lo":585,"hi":602,"d":"up"},{"t":1149,"lo":588,"hi":604,"d":"up"},{"t":1152,"lo":582,"hi":600,"d":"down"},{"t":1155,"lo":585,"hi":602,"d":"up"},{"t":1158,"lo":570,"hi":598,"d":"down"},{"t":1161,"lo":568,"hi":595,"d":"down"},{"t":1164,"lo":560,"hi":585,"d":"down"},{"t":1167,"lo":545,"hi":575,"d":"down"},{"t":1170,"lo":530,"hi":560,"d":"down"},{"t":1173,"lo":520,"hi":545,"d":"down"},{"t":1176,"lo":505,"hi":535,"d":"down"},{"t":1179,"lo":508,"hi":530,"d":"up"},{"t":1182,"lo":515,"hi":538,"d":"up"},{"t":1185,"lo":520,"hi":545,"d":"down"},{"t":1188,"lo":505,"hi":532,"d":"down"},{"t":1191,"lo":500,"hi":525,"d":"down"},{"t":1194,"lo":502,"hi":522,"d":"up"},{"t":1197,"lo":508,"hi":530,"d":"up"},{"t":1200,"lo":505,"hi":528,"d":"down"},{"t":1203,"lo":500,"hi":522,"d":"down"},{"t":1206,"lo":495,"hi":518,"d":"down"},{"t":1209,"lo":502,"hi":520,"d":"up"},{"t":1212,"lo":505,"hi":525,"d":"up"},{"t":1215,"lo":500,"hi":520,"d":"down"},{"t":1218,"lo":506,"hi":522,"d":"up"},{"t":1221,"lo":510,"hi":532,"d":"up"},{"t":1224,"lo":520,"hi":540,"d":"up"},{"t":1227,"lo":525,"hi":548,"d":"up"},{"t":1230,"lo":532,"hi":554,"d":"up"},{"t":1233,"lo":538,"hi":562,"d":"up"},{"t":1236,"lo":545,"hi":572,"d":"up"},{"t":1239,"lo":552,"hi":580,"d":"down"},{"t":1242,"lo":560,"hi":588,"d":"up"},{"t":1245,"lo":570,"hi":598,"d":"up"},{"t":1248,"lo":575,"hi":605,"d":"up"},{"t":1251,"lo":582,"hi":610,"d":"down"},{"t":1254,"lo":595,"hi":625,"d":"up"},{"t":1257,"lo":605,"hi":640,"d":"up"},{"t":1260,"lo":620,"hi":655,"d":"up"},{"t":1263,"lo":635,"hi":670,"d":"up"},{"t":1266,"lo":650,"hi":688,"d":"up"},{"t":1269,"lo":665,"hi":700,"d":"down"},{"t":1272,"lo":675,"hi":710,"d":"up"},{"t":1275,"lo":688,"hi":720,"d":"up"},{"t":1278,"lo":700,"hi":730,"d":"up"},{"t":1281,"lo":708,"hi":738,"d":"down"},{"t":1284,"lo":715,"hi":742,"d":"up"},{"t":1287,"lo":722,"hi":750,"d":"up"},{"t":1290,"lo":728,"hi":755,"d":"up"},{"t":1293,"lo":732,"hi":760,"d":"down"},{"t":1296,"lo":720,"hi":765,"d":"down"},{"t":1299,"lo":742,"hi":770,"d":"up"},{"t":1302,"lo":748,"hi":775,"d":"up"},{"t":1305,"lo":752,"hi":778,"d":"up"},{"t":1308,"lo":760,"hi":786,"d":"up"},{"t":1311,"lo":765,"hi":795,"d":"up"},{"t":1314,"lo":772,"hi":800,"d":"down"},{"t":1317,"lo":782,"hi":810,"d":"up"},{"t":1320,"lo":792,"hi":820,"d":"up"},{"t":1322,"lo":825,"hi":852,"d":"down"},{"t":1325,"lo":828,"hi":860,"d":"up"},{"t":1328,"lo":832,"hi":865,"d":"up"},{"t":1331,"lo":840,"hi":875,"d":"up"},{"t":1334,"lo":850,"hi":885,"d":"up"},{"t":1338,"lo":873,"hi":908,"d":"down"},{"t":1341,"lo":860,"hi":889,"d":"down"},
{"t":1344.5,"lo":830,"hi":857,"d":"up"},{"t":1346.4,"lo":824.5,"hi":846,"d":"down"},{"t":1350.5,"lo":832,"hi":862.5,"d":"down"},{"t":1356,"lo":824.5,"hi":846,"d":"up"},{"t":1360,"lo":824.5,"hi":836,"d":"down"},{"t":1362.8,"lo":828,"hi":844,"d":"up"},{"t":1366.8,"lo":830,"hi":842,"d":"down"},{"t":1371,"lo":832,"hi":846,"d":"up"},{"t":1375,"lo":828,"hi":853,"d":"up"},{"t":1380.5,"lo":833,"hi":847,"d":"down"},{"t":1384.6,"lo":836,"hi":850,"d":"up"},{"t":1388.7,"lo":840,"hi":856,"d":"up"},{"t":1391.4,"lo":844,"hi":854,"d":"down"},{"t":1394,"lo":830,"hi":844,"d":"down"},{"t":1396.8,"lo":832,"hi":848,"d":"down"},{"t":1401,"lo":836,"hi":850,"d":"up"},{"t":1403.7,"lo":832,"hi":844,"d":"down"},{"t":1406.4,"lo":824.5,"hi":838,"d":"up"},{"t":1409,"lo":834,"hi":846,"d":"up"},{"t":1411.8,"lo":838,"hi":852,"d":"up"},{"t":1414.6,"lo":852,"hi":865.5,"d":"up"},{"t":1417.3,"lo":856,"hi":871,"d":"down"},{"t":1420,"lo":860,"hi":878,"d":"up"},{"t":1422.7,"lo":867,"hi":883,"d":"down"},{"t":1425.5,"lo":873,"hi":892,"d":"up"},{"t":1429.6,"lo":883,"hi":906,"d":"up"},{"t":1433.7,"lo":899,"hi":918,"d":"up"},{"t":1436.4,"lo":908,"hi":926,"d":"up"},{"t":1440.5,"lo":901,"hi":922,"d":"down"},{"t":1444.6,"lo":914,"hi":926,"d":"up"},{"t":1447.3,"lo":914,"hi":926,"d":"up"},{"t":1450,"lo":916,"hi":930,"d":"up"},{"t":1454.1,"lo":932,"hi":959,"d":"down"},{"t":1456.8,"lo":926,"hi":951,"d":"down"},{"t":1460.9,"lo":910,"hi":941.5,"d":"down"},{"t":1465,"lo":912,"hi":939,"d":"up"},{"t":1467.7,"lo":910,"hi":928,"d":"down"},{"t":1470.5,"lo":914,"hi":926,"d":"up"},{"t":1473.2,"lo":920,"hi":928,"d":"down"},{"t":1478.6,"lo":924,"hi":932,"d":"up"},{"t":1481.4,"lo":901,"hi":922,"d":"down"},{"t":1484.1,"lo":897,"hi":916,"d":"up"},{"t":1486.8,"lo":910,"hi":934,"d":"down"},{"t":1489.6,"lo":902.5,"hi":928,"d":"down"},{"t":1492.3,"lo":914,"hi":926,"d":"up"},{"t":1495,"lo":924,"hi":941.5,"d":"up"},{"t":1497.7,"lo":938,"hi":991,"d":"up"},{"t":1500.5,"lo":966,"hi":989,"d":"down"},{"t":1505.9,"lo":974,"hi":989,"d":"up"},{"t":1508.6,"lo":934,"hi":958,"d":"down"},{"t":1511.4,"lo":926,"hi":943.5,"d":"down"},{"t":1515.5,"lo":922,"hi":938,"d":"down"},{"t":1519.6,"lo":930,"hi":949,"d":"up"},{"t":1522.3,"lo":932,"hi":953,"d":"down"},{"t":1525,"lo":925,"hi":945,"d":"down"},{"t":1527.7,"lo":926,"hi":938,"d":"up"},{"t":1533.2,"lo":902.5,"hi":921,"d":"down"},{"t":1535.9,"lo":897,"hi":912,"d":"up"},{"t":1538.6,"lo":899,"hi":914,"d":"down"},{"t":1541.4,"lo":910,"hi":924,"d":"down"},{"t":1544.1,"lo":897,"hi":906,"d":"up"},{"t":1546.8,"lo":891,"hi":906,"d":"up"},{"t":1549.6,"lo":887,"hi":897,"d":"down"},{"t":1552.3,"lo":891,"hi":924,"d":"up"},{"t":1555,"lo":906,"hi":922,"d":"down"},{"t":1557.7,"lo":908,"hi":916,"d":"down"},{"t":1561.8,"lo":908,"hi":924,"d":"up"},{"t":1564.5,"lo":908,"hi":922,"d":"down"}
],
"highlights": [{"t0":684.5,"t1":1055,"p0":420.5,"p1":673.5},{"t0":1152.5,"t1":1500.5,"p0":467,"p1":978.2}],
"topstrip": [{"t0":0,"t1":1568,"p0":997,"p1":1000}],
"titlebox": [{"t0":4,"t1":159,"p0":962,"p1":996}],
"buttons": [{"t0":754.5,"t1":810,"p0":296.4,"p1":317},{"t0":1522.4,"t1":1554.5,"p0":298.2,"p1":323.3}],
"divider": [{"t":782,"p0":300,"p1":313}],
"btntext": [{"t":768,"p":308,"txt":"−"},{"t":796,"p":308,"txt":"+"}],
"navtext": [{"t":1538.2,"p":312,"txt":"»"}],
"rightline": [{"t":1566.3}],
"bottomline": [{"p":285.9}],
"ticker": [{"t":13.5,"p":981.9,"txt":"ADBE"}],
"titletext": [{"t":69,"p":981.9,"txt":"4小時"},{"t":114,"p":981.9,"txt":"賣出價"}],
"caret": [{"t":60,"p":981.5}],
"bluetri": [{"t":22.5,"p":948.2}],
"section": [{"t":34.5,"p":945,"txt":"指標"}],
"toggle": [{"t0":36.8,"t1":60.2,"p0":904.1,"p1":916.4}],
"knob": [{"t":54.4,"p":910.2}],
"swatch": [{"t0":70.2,"t1":83,"p0":904.1,"p1":916.4}],
"closex": [{"t":98.3,"p":909.6,"txt":"✕"}],
"indicator": [{"t":112.3,"p":909.9,"txt":"布林通道 (20,2,ma,y)"}],
"pricetag": [{"t":1568,"p":986.3}]
},
"layer": [
{"data":{"name":"vgrid"},"mark":{"type":"rule","color":"#efeff2","strokeWidth":2},
 "encoding":{"x":{"field":"t","type":"quantitative","scale":{"domain":[0,1568],"nice":false,"zero":false},"axis":null}}},
{"data":{"name":"hgrid"},"mark":{"type":"rule","color":"#efeff2","strokeWidth":2},
 "encoding":{"y":{"field":"p","type":"quantitative","scale":{"domain":[285,1000],"nice":false,"zero":false},"axis":null}}},
{"data":{"name":"topstrip"},"mark":{"type":"rect","fill":"#ececec"},
 "encoding":{"x":{"field":"t0","type":"quantitative"},"x2":{"field":"t1"},"y":{"field":"p0","type":"quantitative"},"y2":{"field":"p1"}}},
{"data":{"name":"titlebox"},"mark":{"type":"rect","fill":"#ffffff"},
 "encoding":{"x":{"field":"t0","type":"quantitative"},"x2":{"field":"t1"},"y":{"field":"p0","type":"quantitative"},"y2":{"field":"p1"}}},
{"data":{"name":"lticks"},"mark":{"type":"point","shape":"triangle-left","filled":true,"color":"#c9cdd6","size":30,"opacity":1},
 "encoding":{"x":{"datum":2.6,"type":"quantitative"},"y":{"field":"p","type":"quantitative"}}},
{"data":{"name":"bands"},"mark":{"type":"area","interpolate":"monotone","fill":"#cbcbcb","opacity":1},
 "encoding":{"x":{"field":"t","type":"quantitative"},"y":{"field":"lower","type":"quantitative"},"y2":{"field":"upper"}}},
{"data":{"name":"candles"},"mark":{"type":"rule","strokeWidth":2.6},
 "encoding":{"x":{"field":"t","type":"quantitative"},"y":{"field":"lo","type":"quantitative"},"y2":{"field":"hi"},
  "color":{"field":"d","type":"nominal","scale":{"domain":["up","down"],"range":["#22a887","#dc3d5c"]},"legend":null}}},
{"data":{"name":"bands"},"mark":{"type":"line","interpolate":"monotone","color":"#161616","strokeWidth":2.8},
 "encoding":{"x":{"field":"t","type":"quantitative"},"y":{"field":"upper","type":"quantitative"}}},
{"data":{"name":"bands"},"mark":{"type":"line","interpolate":"monotone","color":"#161616","strokeWidth":2.8},
 "encoding":{"x":{"field":"t","type":"quantitative"},"y":{"field":"middle","type":"quantitative"}}},
{"data":{"name":"bands"},"mark":{"type":"line","interpolate":"monotone","color":"#161616","strokeWidth":2.8},
 "encoding":{"x":{"field":"t","type":"quantitative"},"y":{"field":"lower","type":"quantitative"}}},
{"data":{"name":"highlights"},"mark":{"type":"rect","fill":"transparent","stroke":"#fb3336","strokeWidth":5,"cornerRadius":26},
 "encoding":{"x":{"field":"t0","type":"quantitative"},"x2":{"field":"t1"},"y":{"field":"p0","type":"quantitative"},"y2":{"field":"p1"}}},
{"data":{"name":"rightline"},"mark":{"type":"rule","color":"#a6a6a6","strokeWidth":2},
 "encoding":{"x":{"field":"t","type":"quantitative"}}},
{"data":{"name":"bottomline"},"mark":{"type":"rule","color":"#d2d2d2","strokeWidth":2},
 "encoding":{"y":{"field":"p","type":"quantitative"}}},
{"data":{"name":"buttons"},"mark":{"type":"rect","fill":"#fbfbfb","stroke":"#e4e4e4","strokeWidth":1.5,"cornerRadius":5},
 "encoding":{"x":{"field":"t0","type":"quantitative"},"x2":{"field":"t1"},"y":{"field":"p0","type":"quantitative"},"y2":{"field":"p1"}}},
{"data":{"name":"divider"},"mark":{"type":"rule","color":"#dddddd","strokeWidth":1.5},
 "encoding":{"x":{"field":"t","type":"quantitative"},"y":{"field":"p0","type":"quantitative"},"y2":{"field":"p1"}}},
{"data":{"name":"btntext"},"mark":{"type":"text","font":"Roboto, sans-serif","fontSize":32,"fontWeight":"bold","color":"#555555","align":"center","baseline":"middle"},
 "encoding":{"x":{"field":"t","type":"quantitative"},"y":{"field":"p","type":"quantitative"},"text":{"field":"txt"}}},
{"data":{"name":"navtext"},"mark":{"type":"text","font":"Roboto, sans-serif","fontSize":46,"fontWeight":"bold","color":"#555555","align":"center","baseline":"middle"},
 "encoding":{"x":{"field":"t","type":"quantitative"},"y":{"field":"p","type":"quantitative"},"text":{"field":"txt"}}},
{"data":{"name":"ticker"},"mark":{"type":"text","font":"Roboto, Noto Sans CJK TC, sans-serif","fontSize":25,"fontWeight":"bold","color":"#333333","align":"left","baseline":"middle"},
 "encoding":{"x":{"field":"t","type":"quantitative"},"y":{"field":"p","type":"quantitative"},"text":{"field":"txt"}}},
{"data":{"name":"titletext"},"mark":{"type":"text","font":"Roboto, Noto Sans CJK TC, sans-serif","fontSize":24,"color":"#3c3c3c","align":"left","baseline":"middle"},
 "encoding":{"x":{"field":"t","type":"quantitative"},"y":{"field":"p","type":"quantitative"},"text":{"field":"txt"}}},
{"data":{"name":"caret"},"mark":{"type":"point","shape":"triangle-down","filled":true,"color":"#333333","size":110,"opacity":1},
 "encoding":{"x":{"field":"t","type":"quantitative"},"y":{"field":"p","type":"quantitative"}}},
{"data":{"name":"bluetri"},"mark":{"type":"point","shape":"triangle-down","filled":true,"color":"#1f5fd8","size":240,"opacity":1},
 "encoding":{"x":{"field":"t","type":"quantitative"},"y":{"field":"p","type":"quantitative"}}},
{"data":{"name":"section"},"mark":{"type":"text","font":"Noto Sans CJK TC, sans-serif","fontSize":22,"color":"#333333","align":"left","baseline":"middle"},
 "encoding":{"x":{"field":"t","type":"quantitative"},"y":{"field":"p","type":"quantitative"},"text":{"field":"txt"}}},
{"data":{"name":"toggle"},"mark":{"type":"rect","fill":"#27bcd6","cornerRadius":10.5},
 "encoding":{"x":{"field":"t0","type":"quantitative"},"x2":{"field":"t1"},"y":{"field":"p0","type":"quantitative"},"y2":{"field":"p1"}}},
{"data":{"name":"knob"},"mark":{"type":"point","shape":"circle","filled":true,"color":"#ffffff","size":150,"opacity":1},
 "encoding":{"x":{"field":"t","type":"quantitative"},"y":{"field":"p","type":"quantitative"}}},
{"data":{"name":"swatch"},"mark":{"type":"rect","fill":"#000000"},
 "encoding":{"x":{"field":"t0","type":"quantitative"},"x2":{"field":"t1"},"y":{"field":"p0","type":"quantitative"},"y2":{"field":"p1"}}},
{"data":{"name":"closex"},"mark":{"type":"text","font":"DejaVu Sans, sans-serif","fontSize":26,"fontWeight":"bold","color":"#808080","align":"center","baseline":"middle"},
 "encoding":{"x":{"field":"t","type":"quantitative"},"y":{"field":"p","type":"quantitative"},"text":{"field":"txt"}}},
{"data":{"name":"indicator"},"mark":{"type":"text","font":"Roboto, Noto Sans CJK TC, sans-serif","fontSize":22,"color":"#333333","align":"left","baseline":"middle"},
 "encoding":{"x":{"field":"t","type":"quantitative"},"y":{"field":"p","type":"quantitative"},"text":{"field":"txt"}}},
{"data":{"name":"pricetag"},"mark":{"type":"point","shape":"diamond","filled":true,"color":"#f24c6c","size":1100,"opacity":1,"clip":true},
 "encoding":{"x":{"field":"t","type":"quantitative"},"y":{"field":"p","type":"quantitative"}}}
]
}
